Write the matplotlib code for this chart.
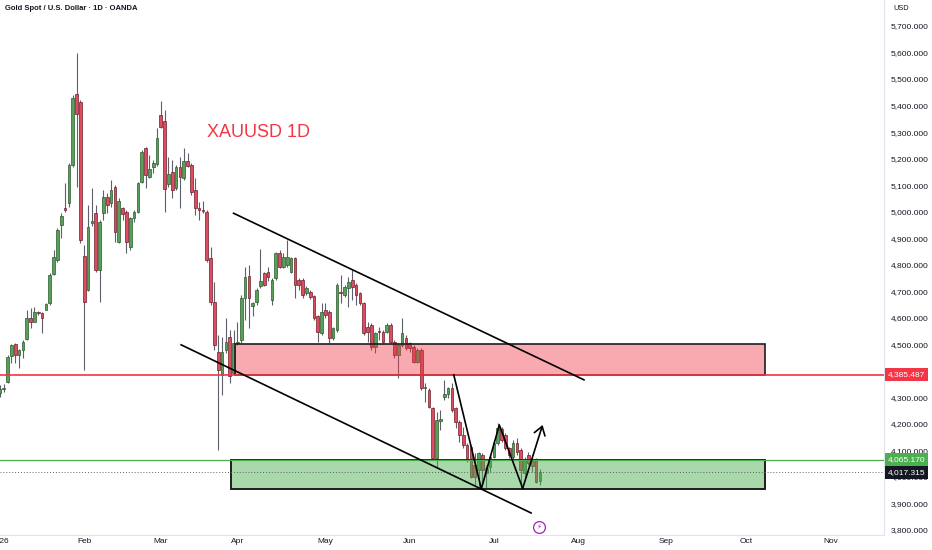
import matplotlib
matplotlib.use("Agg")
import matplotlib.pyplot as plt
import matplotlib.transforms as mtransforms
from matplotlib.patches import Rectangle
import numpy as np

plt.rcParams['font.family'] = ['Liberation Sans', 'DejaVu Sans']

# daily candles, 1 Jan 2026 -> 17 Jul 2026
opens = [4318, 4330, 4359, 4456, 4500, 4460, 4478, 4520, 4598, 4585,
         4623, 4617, 4631, 4655, 4765, 4818, 4950, 5012, 5031, 5176,
         5444, 5415, 4833, 4705, 4957, 4994, 4780, 4994, 5057, 5032,
         5094, 4887, 5013, 4998, 4868, 4975, 4998, 5113, 5241, 5132,
         5170, 5179, 5365, 5342, 5103, 5148, 5088, 5170, 5126, 5191,
         5176, 5082, 5013, 5006, 5000, 4824, 4661, 4472, 4384, 4478,
         4529, 4390, 4504, 4516, 4673, 4758, 4645, 4661, 4718, 4768,
         4774, 4667, 4749, 4846, 4793, 4800, 4774, 4824, 4743, 4743,
         4695, 4699, 4682, 4605, 4541, 4629, 4623, 4522, 4554, 4698,
         4686, 4711, 4742, 4723, 4692, 4654, 4566, 4573, 4491, 4548,
         4548, 4548, 4573, 4510, 4460, 4497, 4522, 4503, 4491, 4435,
         4478, 4334, 4328, 4259, 4070, 4212, 4300, 4313, 4334, 4258,
         4208, 4158, 4120, 4114, 4045, 4026, 4083, 4013, 4039, 4076,
         4127, 4180, 4158, 4108, 4076, 4127, 4101, 4013, 4083, 4060,
         4064, 3985]
highs = [4345, 4352, 4460, 4500, 4505, 4484, 4516, 4629, 4636, 4642,
         4627, 4620, 4655, 4767, 4855, 4937, 4994, 5107, 5182, 5440,
         5598, 5420, 4874, 5025, 5088, 5025, 4969, 5082, 5070, 5120,
         5101, 5050, 5019, 5006, 4981, 5006, 5111, 5233, 5245, 5214,
         5195, 5314, 5417, 5383, 5207, 5195, 5176, 5207, 5239, 5220,
         5182, 5126, 5038, 5040, 5006, 4868, 4736, 4535, 4529, 4598,
         4554, 4554, 4585, 4686, 4793, 4799, 4660, 4711, 4858, 4774,
         4793, 4749, 4849, 4856, 4843, 4893, 4830, 4830, 4749, 4749,
         4718, 4705, 4686, 4611, 4654, 4654, 4629, 4567, 4730, 4761,
         4723, 4755, 4780, 4730, 4698, 4661, 4585, 4579, 4548, 4567,
         4554, 4579, 4579, 4516, 4504, 4598, 4535, 4510, 4498, 4485,
         4485, 4353, 4334, 4265, 4246, 4252, 4365, 4340, 4353, 4265,
         4215, 4190, 4127, 4120, 4089, 4095, 4089, 4045, 4083, 4140,
         4202, 4190, 4165, 4114, 4140, 4145, 4108, 4076, 4095, 4070,
         4070, 4030]
lows = [4300, 4321, 4353, 4428, 4428, 4410, 4447, 4516, 4560, 4585,
        4610, 4541, 4628, 4650, 4761, 4812, 4900, 5000, 5019, 5170,
        5093, 4880, 4403, 4700, 4945, 4774, 4661, 4969, 4994, 5019,
        4887, 4881, 4969, 4843, 4856, 4962, 4994, 5107, 5091, 5126,
        5145, 5174, 5314, 4998, 5094, 5050, 5082, 5013, 5120, 5170,
        5063, 4988, 4969, 4995, 4812, 4648, 4478, 4101, 4309, 4466,
        4353, 4384, 4497, 4504, 4592, 4560, 4605, 4648, 4711, 4718,
        4740, 4648, 4743, 4787, 4787, 4793, 4770, 4674, 4705, 4674,
        4686, 4670, 4592, 4510, 4535, 4600, 4504, 4516, 4548, 4654,
        4679, 4642, 4667, 4648, 4648, 4535, 4510, 4478, 4466, 4516,
        4504, 4541, 4504, 4447, 4372, 4491, 4478, 4472, 4428, 4428,
        4328, 4284, 4259, 4064, 4033, 4177, 4290, 4296, 4246, 4183,
        4130, 4108, 4058, 3995, 3970, 3957, 3975, 3957, 4020, 4070,
        4120, 4130, 4100, 4070, 4058, 4083, 3957, 3995, 4045, 4020,
        3976, 3969]
closes = [4330, 4336, 4453, 4497, 4460, 4478, 4510, 4598, 4585, 4623,
          4617, 4598, 4651, 4761, 4830, 4931, 4984, 5006, 5176, 5430,
          5368, 4893, 4661, 4943, 4964, 4780, 4962, 5057, 5025, 5082,
          4925, 5040, 4990, 4887, 4975, 4998, 5107, 5224, 5138, 5161,
          5182, 5277, 5318, 5086, 5141, 5082, 5170, 5132, 5191, 5174,
          5076, 5015, 5005, 5002, 4818, 4661, 4497, 4403, 4472, 4510,
          4380, 4504, 4510, 4673, 4755, 4674, 4654, 4705, 4740, 4724,
          4755, 4743, 4843, 4793, 4830, 4830, 4824, 4724, 4724, 4686,
          4711, 4680, 4598, 4548, 4623, 4610, 4522, 4560, 4723, 4692,
          4717, 4736, 4717, 4686, 4654, 4541, 4548, 4491, 4541, 4546,
          4510, 4573, 4510, 4460, 4497, 4541, 4485, 4485, 4435, 4478,
          4334, 4336, 4265, 4070, 4215, 4218, 4312, 4334, 4252, 4208,
          4158, 4120, 4070, 4001, 4001, 4089, 4026, 4033, 4076, 4127,
          4183, 4139, 4108, 4083, 4127, 4095, 4026, 4064, 4051, 4040,
          3982, 4017]

month_labels = ['2026', 'Feb', 'Mar', 'Apr', 'May', 'Jun', 'Jul', 'Aug', 'Sep', 'Oct', 'Nov']
month_bars = [0, 22, 42, 62, 85, 107, 129, 151, 174, 195, 217]
price_ticks = [3800, 3900, 4000, 4100, 4200, 4300, 4400, 4500, 4600, 4700,
               4800, 4900, 5000, 5100, 5200, 5300, 5400, 5500, 5600, 5700]

red_level = 4385.487
green_level = 4065.170
last_price = 4017.315

# drawings (bar index, price)
sell_zone = [61.3, 199.9, 4385.487, 4500.0]
buy_zone = [60.3, 199.9, 3955.0, 4065.170]
upper_trend_x = [61.0, 152.5]
upper_trend_y = [4994, 4366]
lower_trend_x = [47.3, 138.7]
lower_trend_y = [4498, 3864]
path_x = [118.5, 125.7, 130.4, 136.5]
path_y = [4385, 3955, 4196, 3957]
arrow_tip = (141.7, 4196)
event_bar, event_price = 140.7, 3810

fig = plt.figure(figsize=(9.32, 5.5), dpi=100)
ax = fig.add_axes([0, 15 / 550, 884 / 932, 535 / 550])
ax.set_xlim(0.65, 230.86)
ax.set_ylim(3781, 5798)

o = np.array(opens, float)
h = np.array(highs, float)
l = np.array(lows, float)
c = np.array(closes, float)
x = np.arange(len(o))
up = c >= o

fill = np.where(up, '#58a05a', '#dd4d62')
edge = np.where(up, '#2c5a2e', '#6e1f2b')
ax.vlines(x, l, h, color='#5d606b', lw=0.8, zorder=2)
ax.bar(x, np.maximum(np.abs(c - o), 4), bottom=np.minimum(o, c), width=0.7,
       color=fill, edgecolor=edge, linewidth=0.5, zorder=3)

# zones
ax.add_patch(Rectangle((sell_zone[0], sell_zone[2]), sell_zone[1] - sell_zone[0],
                       sell_zone[3] - sell_zone[2], facecolor=(0.95, 0.21, 0.27, 0.42),
                       edgecolor='#1e1e1e', lw=1.2, zorder=4))
ax.add_patch(Rectangle((buy_zone[0], buy_zone[2]), buy_zone[1] - buy_zone[0],
                       buy_zone[3] - buy_zone[2], facecolor=(0.30, 0.69, 0.31, 0.48),
                       edgecolor='#1e1e1e', lw=1.4, zorder=4))

ax.axhline(red_level, color='#f23645', lw=1.2, zorder=5)
ax.axhline(green_level, color='#4caf50', lw=0.9, zorder=5)
ax.axhline(last_price, color='#5d606b', lw=0.7, ls=(0, (1, 2)), zorder=5)

ax.plot(upper_trend_x, upper_trend_y, color='black', lw=1.2, zorder=6)
ax.plot(lower_trend_x, lower_trend_y, color='black', lw=1.2, zorder=6)
ax.plot(path_x, path_y, color='black', lw=1.2, zorder=6)
ax.annotate('', xy=arrow_tip, xytext=(path_x[-1], path_y[-1]),
            arrowprops=dict(arrowstyle='->,head_length=0.6,head_width=0.4',
                            color='black', lw=1.2, shrinkA=0, shrinkB=0), zorder=6)

ax.text(54.0, 5297, 'XAUUSD 1D', color='#f23645', fontsize=13, ha='left', va='center', zorder=6)

ax.plot(event_bar, event_price, marker='o', ms=8.5, mfc='white', mec='#9c27b0', mew=0.9, zorder=7)
ax.text(event_bar, event_price, '\u26a1', color='#9c27b0', fontsize=5, ha='center', va='center',
        family=['DejaVu Sans'], zorder=8)

# axes look
for s in ['top', 'left']:
    ax.spines[s].set_visible(False)
for s in ['right', 'bottom']:
    ax.spines[s].set_color('#e0e3eb')
    ax.spines[s].set_linewidth(0.8)

ax.yaxis.tick_right()
ax.set_yticks(price_ticks, [f'{p:,.3f}' for p in price_ticks])
ax.tick_params(axis='y', length=0, pad=5, labelsize=6, labelcolor='#131722')
ax.set_xticks(month_bars, month_labels)
ax.tick_params(axis='x', length=0, pad=2.5, labelsize=6, labelcolor='#131722')

tr = mtransforms.blended_transform_factory(ax.transAxes, ax.transData)
for lvl, col in [(red_level, '#f23645'), (green_level, '#4caf50'), (last_price, '#131722')]:
    ax.text(1.004, lvl, f'{lvl:,.3f}', transform=tr, color='white', fontsize=6,
            ha='left', va='center', clip_on=False, zorder=10,
            bbox=dict(boxstyle='square,pad=0.35', fc=col, ec='none'))

fig.text(5 / 932, 1 - 9 / 550, 'Gold Spot / U.S. Dollar \u00b7 1D \u00b7 OANDA', fontsize=5.5,
         fontweight='bold', color='#131722', va='center')
fig.text(893 / 932, 1 - 9 / 550, 'USD', fontsize=5.3, color='#131722', va='center')

fig.savefig('out.png', dpi=100)
